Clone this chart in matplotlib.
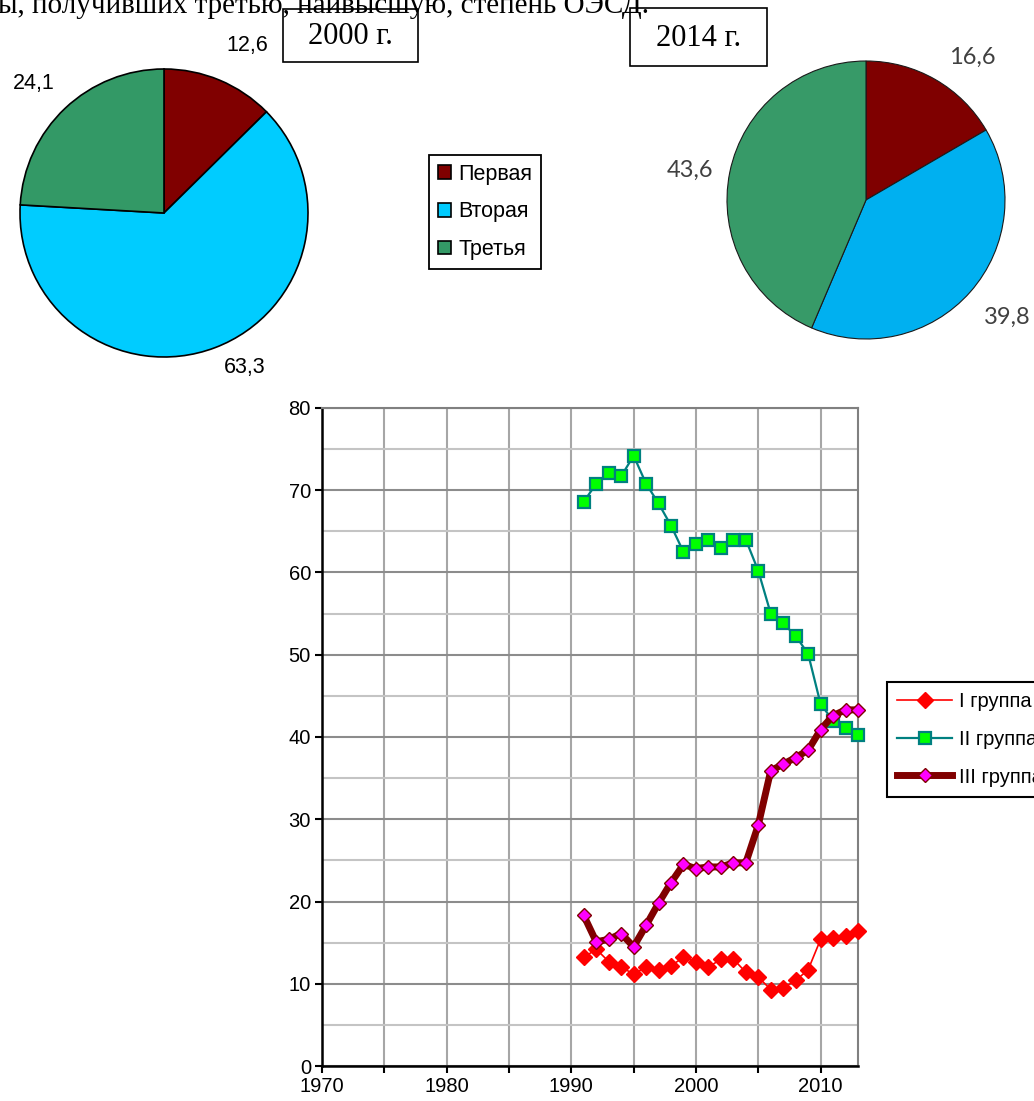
import matplotlib
matplotlib.use('Agg')
import matplotlib.pyplot as plt
from matplotlib.patches import Rectangle
from matplotlib.ticker import MultipleLocator

W, H = 1034, 1101

# pie data
degrees = ['Первая', 'Вторая', 'Третья']
share_2000 = [12.6, 63.3, 24.1]
share_2014 = [16.6, 39.8, 43.6]
colors_2000 = ['#800000', '#00CCFF', '#339966']
colors_2014 = ['#7F0000', '#00B0F0', '#379A68']

# line data
years = list(range(1991, 2014))
group1 = [13.2, 14.2, 12.7, 12.0, 11.2, 12.0, 11.7, 12.2, 13.2, 12.7, 12.0, 13.0,
          13.0, 11.4, 10.8, 9.3, 9.5, 10.4, 11.7, 15.4, 15.6, 15.8, 16.4]
group2 = [68.6, 70.8, 72.1, 71.7, 74.2, 70.8, 68.4, 65.7, 62.5, 63.5, 64.0, 63.0,
          64.0, 64.0, 60.2, 55.0, 53.8, 52.3, 50.1, 44.0, 42.0, 41.1, 40.3]
group3 = [18.3, 15.1, 15.4, 16.1, 14.5, 17.1, 19.8, 22.3, 24.5, 24.0, 24.2, 24.2,
          24.7, 24.7, 29.3, 35.9, 36.7, 37.5, 38.4, 40.9, 42.6, 43.3, 43.3]
group_labels = ['I группа', 'II группа', 'III группа']


def fmt(v):
    return f'{v:.1f}'.replace('.', ',')


def px_axes(fig, left, top, right, bottom):
    return fig.add_axes([left / W, 1 - bottom / H, (right - left) / W, (bottom - top) / H])


fig = plt.figure(figsize=(W / 100, H / 100), dpi=100)

# overlay for text and boxes (pixel coords, y down)
bg = fig.add_axes([0, 0, 1, 1])
bg.set_xlim(0, W)
bg.set_ylim(H, 0)
bg.set_axis_off()

serif = 'Liberation Serif'
sans = 'Liberation Sans'

# first line of the page text is cut by the top edge, as in the source
bg.text(-2, 13, 'ы, получивших третью, наивысшую, степень ОЭСД.', family=serif,
        fontsize=21, ha='left', va='baseline', zorder=6)

for (x0, y0, x1, y1), title in [((283, 9, 418, 62), '2000 г.'), ((630, 8, 767, 66), '2014 г.')]:
    bg.add_patch(Rectangle((x0, y0), x1 - x0, y1 - y0, fill=False,
                           edgecolor='black', lw=1.2, zorder=3))
    bg.text((x0 + x1) / 2, (y0 + y1) / 2 + 1, title, family=serif, fontsize=22,
            ha='center', va='center', zorder=4)

# left pie (2000)
ax1 = px_axes(fig, 0, 0, W, H)
wedges, _ = ax1.pie(share_2000, colors=colors_2000, startangle=90, counterclock=False,
                    center=(164, H - 213), radius=144,
                    wedgeprops=dict(edgecolor='black', linewidth=1.2))
ax1.set_xlim(0, W)
ax1.set_ylim(0, H)
ax1.set_axis_off()

for v, (x, y) in zip(share_2000, [(247, 46), (245, 367), (34, 84)]):
    bg.text(x, y, fmt(v), family=sans, fontsize=15.5, ha='center', va='center')

# right pie (2014), clipped at bottom
ax2 = px_axes(fig, 600, 0, W, 327)
ax2.pie(share_2014, colors=colors_2014, startangle=90, counterclock=False,
        center=(866, H - 200), radius=139,
        wedgeprops=dict(edgecolor='#1a1a1a', linewidth=0.8))
ax2.set_xlim(600, W)
ax2.set_ylim(H - 327, H)
ax2.set_axis_off()

for v, (x, y) in zip(share_2014, [(972, 57), (1007, 317), (690, 170)]):
    bg.text(x, y, fmt(v), family='Lato', fontsize=17, color='#404040',
            ha='center', va='center')

leg1 = fig.legend(wedges, degrees, loc='upper left',
                  bbox_to_anchor=(429 / W, 1 - 155 / H), borderaxespad=0,
                  prop=dict(family=sans, size=15.5), fancybox=False,
                  handlelength=0.6, handleheight=0.6, handletextpad=0.37,
                  borderpad=0.4, labelspacing=0.78, framealpha=1)
leg1.get_frame().set_edgecolor('black')
leg1.get_frame().set_linewidth(1.3)

# line chart
ax = px_axes(fig, 322, 408, 858, 1066)
ax.plot(years, group1, color='#FF0000', lw=1.2, marker='D', ms=8,
        mfc='#FF0000', mec='#FF0000', label=group_labels[0], clip_on=False, zorder=4)
ax.plot(years, group2, color='#008080', lw=1.6, marker='s', ms=8.5,
        mfc='#00FF00', mec='#008080', mew=1.6, label=group_labels[1], clip_on=False, zorder=5)
ax.plot(years, group3, color='#800000', lw=5, marker='D', ms=7.5,
        mfc='#FF00FF', mec='#800000', mew=1, label=group_labels[2], clip_on=False, zorder=6)

ax.set_xlim(1970, 2013)
ax.set_ylim(0, 80)
ax.xaxis.set_major_locator(MultipleLocator(10))
ax.xaxis.set_minor_locator(MultipleLocator(5))
ax.yaxis.set_major_locator(MultipleLocator(10))
ax.yaxis.set_minor_locator(MultipleLocator(5))
ax.grid(True, which='major', axis='y', color='#8C8C8C', lw=1.5)
ax.grid(True, which='minor', axis='y', color='#C4C4C4', lw=1.5)
ax.grid(True, which='both', axis='x', color='#A6A6A6', lw=1.5)
ax.set_axisbelow(True)
ax.tick_params(which='both', axis='x', direction='out', length=5, width=1.5, color='black')
ax.tick_params(which='minor', axis='y', length=0)
ax.tick_params(which='major', axis='y', direction='out', length=5, width=1.5, color='black')
ax.tick_params(labelsize=14.5, pad=3)
for lab in ax.get_xticklabels() + ax.get_yticklabels():
    lab.set_family(sans)
for s in ['left', 'bottom']:
    ax.spines[s].set_color('black')
    ax.spines[s].set_linewidth(1.8)
for s in ['top', 'right']:
    ax.spines[s].set_color('#808080')
    ax.spines[s].set_linewidth(1.5)

leg2 = fig.legend(loc='upper left', bbox_to_anchor=(887 / W, 1 - 682 / H), borderaxespad=0,
                  prop=dict(family=sans, size=14.5), fancybox=False, numpoints=1,
                  handlelength=2.72, handletextpad=0.33, borderpad=0.52,
                  labelspacing=0.92, framealpha=1)
leg2.get_frame().set_edgecolor('black')
leg2.get_frame().set_linewidth(1.5)

fig.savefig('out.png', dpi=100)
